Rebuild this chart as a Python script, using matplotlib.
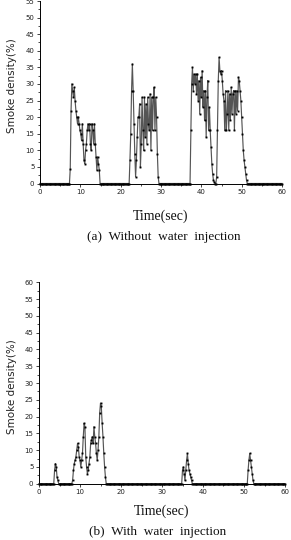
import matplotlib
matplotlib.use("Agg")
import matplotlib.pyplot as plt
import numpy as np
from matplotlib.ticker import MultipleLocator

#
# Data (read off the picture), sampled every 0.2 s
#

step = 0.2
t_end = 60.0

# (a) without water injection: (burst start time, smoke density values)
bursts_a = [
    (7.3, [0, 4.5, 22, 30, 28, 26, 29, 25, 22, 20, 18, 20, 18, 16, 15, 13, 18, 12, 7, 6,
           10, 12, 16, 18, 16, 18, 12, 10, 18, 16, 12, 18, 12, 8, 4, 8, 6, 4, 0]),
    (22.1, [0, 7, 15, 28, 36, 28, 18, 9, 2, 7, 14, 20, 20, 24, 5, 12, 26, 16, 10, 26,
            14, 24, 12, 26, 18, 16, 27, 10, 26, 16, 26, 29, 16, 26, 20, 9, 2, 0]),
    (37.2, [0, 16, 30, 35, 28, 33, 30, 33, 27, 33, 25, 31, 21, 32, 26, 34, 23, 28, 19, 28,
            14, 26, 31, 16, 23, 16, 11, 6, 3, 1, 0.5, 0]),
    (43.6, [0, 2, 16, 31, 38, 34, 33, 34, 31, 27, 25, 16, 28, 16, 21, 28, 16, 27, 19, 29,
            21, 27, 28, 16, 28, 21, 28, 22, 32, 31, 28, 25, 20, 15, 10, 7, 5, 3, 1, 0]),
]

# (b) with water injection
bursts_b = [
    (3.6, [0, 4, 6, 5, 2, 1, 0]),
    (8.0, [0, 1, 4, 6, 7, 8, 10, 12, 11, 8, 7, 5, 7, 9, 14, 18, 17, 8, 5, 3,
           4, 6, 8, 12, 13, 14, 12, 17, 14, 12, 9, 7, 10, 14, 21, 24, 23, 18, 14, 9,
           5, 2, 0]),
    (34.8, [0, 4, 5, 3, 1, 4, 7, 9, 6, 4, 3, 2, 1, 0]),
    (50.8, [0, 4, 7, 9, 7, 5, 3, 1, 0]),
]

x_ticks = [0, 10, 20, 30, 40, 50, 60]
y_ticks_a = list(range(0, 56, 5))       # top panel is cropped above 55
y_ticks_b = list(range(0, 61, 5))


def build_series(bursts):
    # baseline of zeros between bursts, burst values in between
    t = []
    v = []
    cur = 0.0
    for start, vals in bursts:
        while cur < start - 1e-6:
            t.append(cur)
            v.append(0)
            cur += step
        for k, val in enumerate(vals):
            t.append(start + k * step)
            v.append(val)
        cur = start + len(vals) * step
    while cur <= t_end + 1e-6:
        t.append(cur)
        v.append(0)
        cur += step
    return np.array(t), np.array(v)


#
# Figure
#

fig = plt.figure(figsize=(2.91, 5.4), dpi=100, facecolor="white")

# bursts, axes position, y ticks, y-limit top, caption, y of xlabel, y of caption, x of xlabel, x of caption, y of ylabel
panels = [
    (bursts_a, [40 / 291, 1 - 183.5 / 540, 242 / 291, 182.5 / 540], y_ticks_a, 55.0,
     "(a)  Without  water  injection", 216.7, 236.7, 161, 164, 86),
    (bursts_b, [39 / 291, 1 - 483.7 / 540, 246 / 291, 201.4 / 540], y_ticks_b, 60.0,
     "(b)  With  water  injection", 511.7, 531.7, 162, 158, 387),
]

for bursts, pos, yt, ytop, caption, y_xlabel, y_caption, x_xlabel, x_caption, y_ylabel in panels:
    ax = fig.add_axes(pos)
    t, v = build_series(bursts)
    ax.plot(t, v, color="#555555", linewidth=0.85, marker="s", markersize=1.1,
            markerfacecolor="black", markeredgecolor="black", markeredgewidth=0.2,
            clip_on=False)

    ax.set_xlim(0, 60)
    ax.set_ylim(0, ytop)
    ax.set_xticks(x_ticks)
    ax.set_yticks(yt)
    ax.xaxis.set_minor_locator(MultipleLocator(5))
    ax.yaxis.set_minor_locator(MultipleLocator(2.5))
    ax.tick_params(axis="both", which="major", direction="out", length=2.5, width=0.6,
                   labelsize=5, colors="#222222", pad=1.5)
    ax.tick_params(axis="both", which="minor", direction="out", length=1.5, width=0.5)
    ax.spines["top"].set_visible(False)
    ax.spines["right"].set_visible(False)
    ax.spines["left"].set_linewidth(0.7)
    ax.spines["bottom"].set_linewidth(0.7)
    ax.patch.set_alpha(0)

    fig.text(12 / 291, 1 - y_ylabel / 540, "Smoke density(%)", rotation=90,
             ha="center", va="center", fontsize=7.5, color="#222222", family="DejaVu Sans")

    fig.text(x_xlabel / 291, 1 - y_xlabel / 540, "Time(sec)", ha="center", va="center",
             fontsize=10, family="Liberation Serif", color="#111111")
    fig.text(x_caption / 291, 1 - y_caption / 540, caption, ha="center", va="center",
             fontsize=9.5, family="Liberation Serif", color="#111111")

plt.savefig("out.png", dpi=100)
